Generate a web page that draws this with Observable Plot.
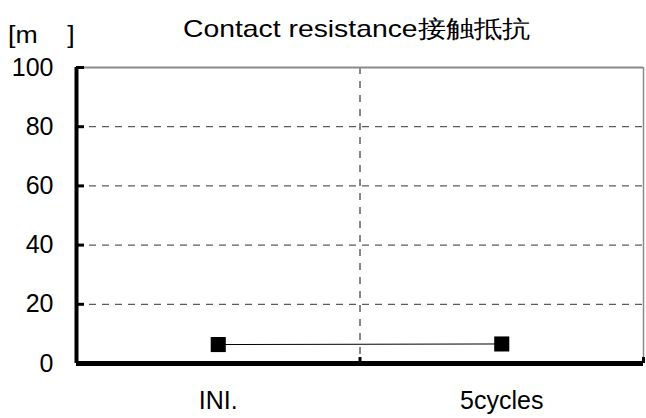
<!DOCTYPE html>
<html>
<head>
<meta charset="utf-8">
<script src="https://cdn.jsdelivr.net/npm/d3@7"></script>
<script src="https://cdn.jsdelivr.net/npm/@observablehq/plot@0.6"></script>
<style>
  body { margin: 0; background: #fff; font-family: "Liberation Sans", Arial, sans-serif; }
  #wrap { position: relative; width: 646px; height: 418px; }
  #head { position: relative; height: 48px; }
  #unit { position: absolute; left: 8px; top: 22px; font-size: 23px; line-height: 1.15; color: #000; white-space: pre; transform: scaleX(1.16); transform-origin: 0 0; }
  #title { position: absolute; left: 183px; top: 15px; font-size: 24px; line-height: 1.15; color: #000; white-space: pre; transform: scaleX(1.18); transform-origin: 0 0; }
</style>
</head>
<body>
<div id="wrap">
  <div id="head"><span id="unit">[m&nbsp;&nbsp;&nbsp;&nbsp;]</span><span id="title">Contact resistance接触抵抗</span></div>
  <div id="chart"></div>
</div>
<script>
const categories = ["INI.", "5cycles"];
const values = [6.4, 6.6];
const yTicks = [0, 20, 40, 60, 80, 100];
const gridY = [20, 40, 60, 80];

const data = categories.map((c, i) => ({cat: c, pos: i + 0.5, value: values[i]}));
const catTicks = categories.map((c, i) => i + 0.5);
const bandEdges = categories.map((c, i) => i + 1);

const chart = Plot.plot({
  width: 646,
  height: 370,
  marginTop: 19,
  marginBottom: 55,
  marginLeft: 76,
  marginRight: 3,
  style: {fontFamily: "Liberation Sans, Arial, sans-serif", fontSize: "25px", color: "#000", background: "#fff"},
  x: {domain: [0, categories.length], axis: null},
  y: {domain: [0, 100], axis: null},
  marks: [
    Plot.ruleY(gridY, {stroke: "#333", strokeWidth: 1, strokeDasharray: "7,6"}),
    Plot.ruleX([1], {stroke: "#111", strokeWidth: 1, strokeDasharray: "7,7"}),
    Plot.ruleY([100], {stroke: "#8a8a8a", strokeWidth: 2}),
    Plot.ruleX([categories.length], {stroke: "#8a8a8a", strokeWidth: 1.5}),
    Plot.axisY({ticks: yTicks, tickSize: 0, tickPadding: 23, fontSize: 25, label: null}),
    Plot.axisY({ticks: yTicks, tickSize: 8, insetLeft: 8, tickFormat: () => "", strokeWidth: 3, stroke: "#000", label: null}),
    Plot.axisX({ticks: catTicks, tickSize: 0, tickPadding: 28, fontSize: 25, label: null, tickFormat: (d) => categories[Math.round(d - 0.5)]}),
    Plot.axisX({ticks: bandEdges, tickSize: 6, insetBottom: 6, tickFormat: () => "", strokeWidth: 3, stroke: "#000", label: null}),
    Plot.ruleX([0], {stroke: "#000", strokeWidth: 4}),
    Plot.ruleY([0], {stroke: "#000", strokeWidth: 5}),
    Plot.line(data, {x: "pos", y: "value", stroke: "#000", strokeWidth: 1}),
    Plot.dot(data, {x: "pos", y: "value", symbol: "square", r: 8.5, fill: "#000", stroke: "none"})
  ]
});
document.getElementById("chart").appendChild(chart);
</script>
</body>
</html>
